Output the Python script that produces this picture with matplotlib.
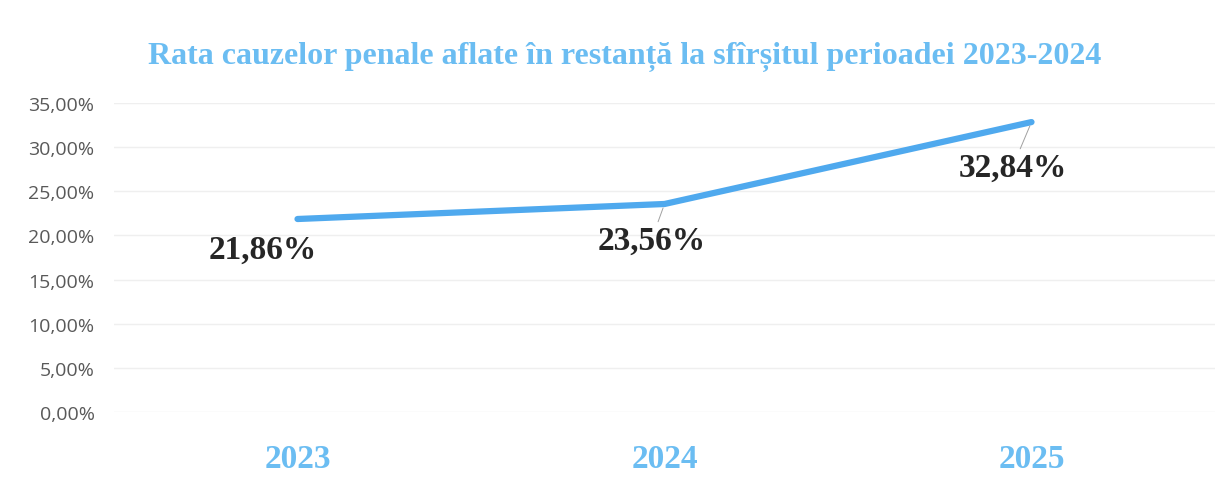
import matplotlib
matplotlib.use("Agg")
import matplotlib.pyplot as plt
from matplotlib.ticker import FuncFormatter

years = ["2023", "2024", "2025"]
rates = [21.86, 23.56, 32.84]
rate_labels = ["21,86%", "23,56%", "32,84%"]
y_ticks = [0, 5, 10, 15, 20, 25, 30, 35]

title = "Rata cauzelor penale aflate în restanță la sfîrșitul perioadei 2023-2024"

blue = "#4FA9EE"
light_blue = "#6BBDF2"

fig = plt.figure(figsize=(12.28, 4.81), dpi=100)
ax = fig.add_axes([114 / 1228, 68 / 481, (1215 - 114) / 1228, (413 - 104) / 481])

x = list(range(len(years)))
ax.plot(x, rates, color=blue, linewidth=4.5, solid_capstyle="round", zorder=3)

ax.set_xlim(-0.5, len(years) - 0.5)
ax.set_ylim(0, 35)
ax.set_yticks(y_ticks)
ax.yaxis.set_major_formatter(FuncFormatter(lambda v, p: f"{v:.2f}%".replace(".", ",")))
ax.set_xticks(x)
ax.set_xticklabels(years)

for lab in ax.get_yticklabels():
    lab.set_fontfamily("Open Sans")
    lab.set_fontsize(14)
    lab.set_color("#595959")
for lab in ax.get_xticklabels():
    lab.set_fontfamily("Liberation Serif")
    lab.set_fontweight("bold")
    lab.set_fontsize(24)
    lab.set_color(light_blue)

ax.tick_params(axis="y", length=0, pad=14)
ax.tick_params(axis="x", length=0, pad=22)
ax.grid(axis="y", color="#EFEFEF", linewidth=1)
ax.set_axisbelow(True)
for s in ax.spines.values():
    s.set_visible(False)

# label offsets in pixels (dx, dy) from each point
offsets = [(-35, -30), (-13, -36), (-19, -45)]
for i, (xi, yi) in enumerate(zip(x, rates)):
    arrow = None
    if i > 0:
        arrow = dict(arrowstyle="-", color="#A0A0A0", lw=0.7, shrinkA=0, shrinkB=3)
    ax.annotate(rate_labels[i], (xi, yi), xytext=offsets[i], textcoords="offset pixels",
                ha="center", va="center", fontsize=24, fontweight="bold",
                fontfamily="Liberation Serif", color="#262626", arrowprops=arrow, zorder=4)

fig.text(625 / 1228, 1 - 57 / 481, title, ha="center", va="center",
         fontsize=23, fontweight="bold", fontfamily="Liberation Serif", color=light_blue)

fig.savefig("out.png", dpi=100, facecolor="white")
